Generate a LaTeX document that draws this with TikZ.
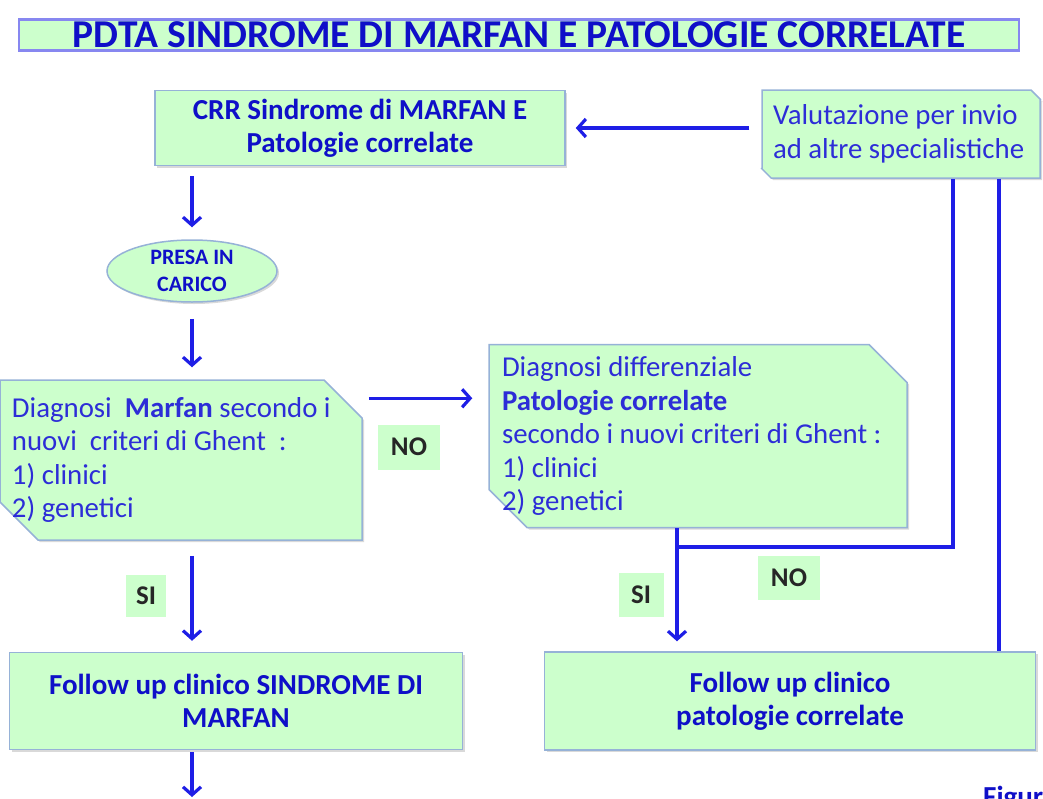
\documentclass[tikz,border=0pt]{standalone}
\usepackage{fontspec}
\setmainfont{Carlito}
\usepackage{tikz}
\usetikzlibrary{arrows.meta,%
                shapes,shadows,calc}

\definecolor{boxgreen}{RGB}{204,255,204}
\definecolor{boxedge}{RGB}{150,178,215}
\definecolor{titleedge}{RGB}{135,135,240}
\definecolor{inkblue}{RGB}{45,45,215}
\definecolor{darkblue}{RGB}{15,15,200}
\definecolor{arrowblue}{RGB}{30,30,230}

\tikzset{
  flowbox/.style={draw=boxedge, line width=1.5pt, fill=boxgreen, text=inkblue,
    inner sep=0pt, drop shadow={shadow xshift=2pt, shadow yshift=-2pt, opacity=.3}},
  plainbox/.style={flowbox, rectangle, align=center, text=darkblue,
    font=\fontsize{29}{33}\selectfont\bfseries},
  cutbox/.style={flowbox, chamfered rectangle,
    chamfered rectangle corners={north east,south west},
    chamfered rectangle xsep=12pt, chamfered rectangle ysep=26pt,
    inner sep=-30pt, align=flush left, font=\fontsize{28.8}{33.5}\selectfont},
  tagbox/.style={fill=boxgreen, text=black!85, inner sep=0pt,
    font=\fontsize{27}{30}\selectfont\bfseries},
  arr/.style={draw=arrowblue, line width=3.2pt, -{Straight Barb[length=8pt,width=18pt]}},
  link/.style={draw=arrowblue, line width=3.2pt, line join=miter}
}

\begin{document}
\begin{tikzpicture}[x=1pt,y=-1pt]
\useasboundingbox (0,0) rectangle (1043,798);
% title
\node[draw=titleedge, line width=2.5pt, fill=boxgreen, minimum width=1000, minimum height=31,
      inner sep=0pt, text=darkblue, font=\fontsize{39.5}{40}\selectfont\bfseries]
      (title) at (519,35) {PDTA SINDROME DI MARFAN E PATOLOGIE CORRELATE};
% boxes
\node[plainbox, minimum width=410, minimum height=75] (crr) at (360,128)
      {CRR Sindrome di MARFAN E\\Patologie correlate};
\node[cutbox, chamfered rectangle xsep=8pt, chamfered rectangle ysep=10pt,
      minimum width=278, minimum height=88, text width=256] (valut) at (901,134)
      {Valutazione per invio\\ad altre specialistiche};
\node[flowbox, ellipse, minimum width=170, minimum height=62, align=center, text=darkblue,
      font=\fontsize{22}{27}\selectfont\bfseries] (presa) at (192,271) {PRESA IN\\CARICO};
\node[cutbox, minimum width=362, minimum height=160, text width=338] (marfan) at (181,460)
      {Diagnosi\ \ \textbf{Marfan} secondo i\\nuovi\ \ criteri di Ghent\ \ :\\1) clinici\\2) genetici};
\node[cutbox, minimum width=418, minimum height=183, text width=392] (diff) at (698,436)
      {Diagnosi differenziale\\\textbf{Patologie correlate}\\secondo i nuovi criteri di Ghent :\\1) clinici\\2) genetici};
\node[plainbox, minimum width=453, minimum height=97] (followL) at (236,701)
      {Follow up clinico SINDROME DI\\MARFAN};
\node[plainbox, minimum width=491, minimum height=98] (followR) at (790,701)
      {Follow up clinico\\patologie correlate};
% answers
\node[tagbox, minimum width=62, minimum height=45] (no1) at (409,447) {NO};
\node[tagbox, minimum width=62, minimum height=44] (no2) at (789,578) {NO};
\node[tagbox, minimum width=40, minimum height=42] (si1) at (146,596) {SI};
\node[tagbox, minimum width=45, minimum height=44] (si2) at (641,595) {SI};
\node[anchor=north west, inner sep=0pt, text=darkblue, font=\fontsize{29}{33}\selectfont\bfseries]
      (fig) at (983,786) {Figura};
% forks
\coordinate (sifork) at (677,547);
\coordinate (nofork) at (953,547);
\coordinate (backline) at (999,400);
\coordinate (outlet) at (192,797);
% arrows
\draw[arr, shorten <=12pt, shorten >=10pt] (valut.west |- crr.east) -- (crr.east);
\draw[arr, shorten <=10pt, shorten >=12pt] (crr.south -| presa.north) -- (presa.north);
\draw[arr, shorten <=16pt, shorten >=12pt] (presa.south) -- (presa.south |- marfan.north);
\draw[arr, shorten <=6pt, shorten >=16pt] ($(marfan.north -| marfan.east)+(0,19)$)
      -- ($(marfan.north -| diff.west)+(0,19)$);
\draw[arr, shorten <=15pt, shorten >=11pt] (marfan.south -| presa.center) -- (followL.north -| presa.center);
\draw[arr, shorten <=2pt] (followL.south -| presa.center) -- (outlet);
\draw[arr, shorten >=10pt] (diff.south -| sifork) -- (followR.north -| sifork);
\draw[link] (sifork) -- (nofork) -- (nofork |- valut.south);
\draw[link] (valut.south -| backline) -- (followR.north -| backline);
\end{tikzpicture}
\end{document}
